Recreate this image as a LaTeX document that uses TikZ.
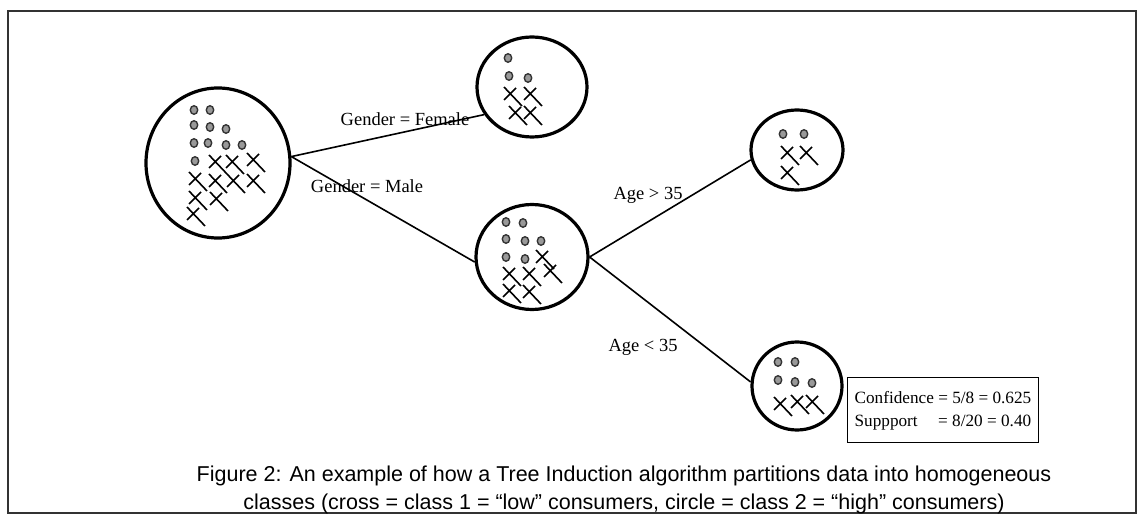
\documentclass[tikz,border=0pt]{standalone}
\usepackage{fontspec}
\setmainfont{Liberation Serif}
\newfontfamily\capfont{Liberation Sans}
\usetikzlibrary{shapes.geometric}
\tikzset{tnode/.style={
    ellipse,
    draw,
    line width=3.2bp,
    inner sep=0pt
  },
  tline/.style={line width=1.6bp},
  lbl/.style={font=\fontsize{18.5bp}{22bp}\selectfont,inner sep=0pt},
  confbox/.style={draw,line width=1.3bp,inner xsep=7bp,inner ysep=9.5bp,
    font=\fontsize{17.2bp}{23bp}\selectfont},
  capnode/.style={align=center,font=\capfont\fontsize{21.5bp}{28bp}\selectfont},
}
\newcommand{\gdot}[2]{\filldraw[fill=black!40,draw=black!80,line width=1.4bp] (#1,#2) ellipse (3.7bp and 4.3bp);}
\newcommand{\gcross}[2]{\draw[line width=1.6bp] (#1-6,#2-7) -- (#1+12,#2+12) (#1-6,#2+6) -- (#1+6,#2-6);}
\begin{document}
\begin{tikzpicture}[x=1bp,y=-1bp]
  \useasboundingbox (0,0) rectangle (1144,526);
  \draw[line width=1.3bp,black!80] (8,11) rectangle (1136,513);
  \node[tnode,minimum width=144bp,minimum height=150bp] (root) at (218,163) {};
  \node[tnode,minimum width=110bp,minimum height=100bp] (female) at (532,87) {};
  \node[tnode,minimum width=112bp,minimum height=105bp] (male) at (532,257) {};
  \node[tnode,minimum width=92bp,minimum height=80bp] (older) at (797,150) {};
  \node[tnode,minimum width=90bp,minimum height=88bp] (younger) at (797,386) {};
  \draw[tline] (root.5) -- (female.210);
  \draw[tline] (root.5) -- (male.185);
  \draw[tline] (male.east) -- (older.192);
  \draw[tline] (male.east) -- (younger.175);
  \node[lbl] (lfemale) at (405,119) {Gender = Female};
  \node[lbl] (lmale) at (367,186) {Gender = Male};
  \node[lbl] (lolder) at (648,195) {Age > 35};
  \node[lbl] (lyounger) at (643,347) {Age < 35};
  % root: 10 circles, 10 crosses
  \gdot{194}{110} \gdot{210}{110}
  \gdot{194}{125} \gdot{210}{127} \gdot{226}{129}
  \gdot{194}{143} \gdot{208}{143} \gdot{226}{145} \gdot{242}{145}
  \gdot{195}{161}
  \gcross{215}{162} \gcross{232}{162} \gcross{253}{160}
  \gcross{195}{179} \gcross{215}{181} \gcross{233}{181} \gcross{253}{181}
  \gcross{195}{198} \gcross{216}{199}
  \gcross{193}{214}
  % female
  \gdot{508}{58} \gdot{509}{76} \gdot{528}{78}
  \gcross{510}{94} \gcross{530}{94} \gcross{515}{113} \gcross{530}{113}
  % male
  \gdot{506}{222} \gdot{523}{223}
  \gdot{506}{239} \gdot{525}{241} \gdot{541}{241}
  \gdot{506}{257} \gdot{525}{259}
  \gcross{542}{257} \gcross{509}{274} \gcross{529}{274} \gcross{550}{271}
  \gcross{509}{291} \gcross{529}{292}
  % age > 35
  \gdot{783}{134} \gdot{804}{134}
  \gcross{787}{153} \gcross{806}{153} \gcross{787}{173}
  % age < 35
  \gdot{778}{362} \gdot{795}{362}
  \gdot{778}{380} \gdot{795}{382} \gdot{812}{383}
  \gcross{780}{404} \gcross{797}{402} \gcross{812}{402}
  \node[confbox,anchor=north west] (conf) at (847,377) {%
    \begin{tabular}{@{}l@{\ }l@{}}
      Confidence & = 5/8 = 0.625\\
      Suppport & = 8/20 = 0.40
    \end{tabular}};
  \node[capnode] (cap) at (624,490) {Figure 2: An example of how a Tree Induction algorithm partitions data into homogeneous\\
    classes (cross = class 1 = “low” consumers, circle = class 2 = “high” consumers)};
\end{tikzpicture}
\end{document}
